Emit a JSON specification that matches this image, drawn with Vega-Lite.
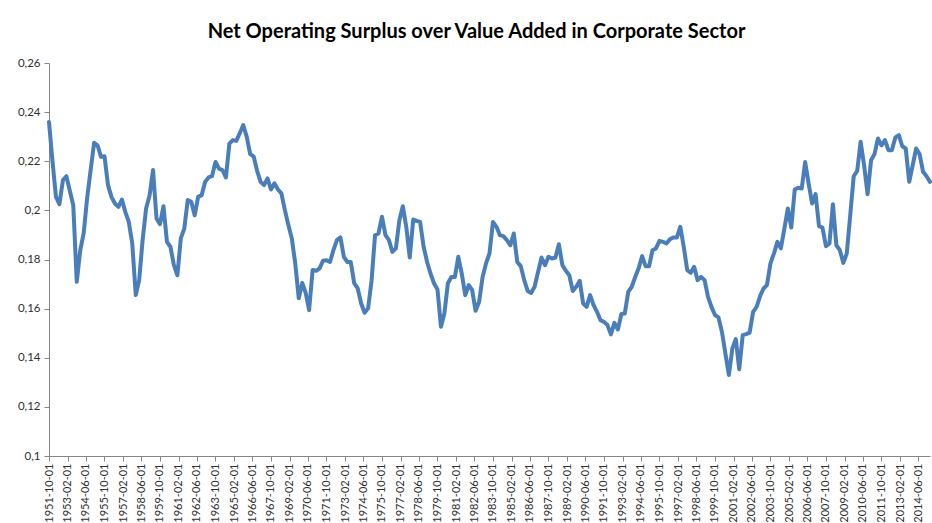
{
"$schema": "https://vega.github.io/schema/vega-lite/v6.json",
"width": 881, "height": 393,
"autosize": {"type": "none"},
"padding": {"left": 49, "top": 63, "right": 2, "bottom": 67},
"background": "white",
"config": {"view": {"stroke": null}},
"title": {"text": "Net Operating Surplus over Value Added in Corporate Sector", "font": "Lato", "fontSize": 20, "fontWeight": "bold", "color": "#000000", "anchor": "middle", "dx": -13, "offset": -1, "baseline": "alphabetic"},
"data": {"format": {"parse": {"d": "utc:'%Y-%m-%d'"}}, "values": [
{"d":"1951-10-01","v":0.236},{"d":"1952-01-01","v":0.220},{"d":"1952-04-01","v":0.2055},{"d":"1952-07-01","v":0.2025},{"d":"1952-10-01","v":0.2123},
{"d":"1953-01-01","v":0.2139},{"d":"1953-04-01","v":0.208},{"d":"1953-07-01","v":0.2021},{"d":"1953-10-01","v":0.1709},
{"d":"1954-01-01","v":0.1838},{"d":"1954-04-01","v":0.1907},{"d":"1954-07-01","v":0.205},{"d":"1954-10-01","v":0.2164},
{"d":"1955-01-01","v":0.2275},{"d":"1955-04-01","v":0.2265},{"d":"1955-07-01","v":0.2218},{"d":"1955-10-01","v":0.222},
{"d":"1956-01-01","v":0.2103},{"d":"1956-04-01","v":0.2055},{"d":"1956-07-01","v":0.2028},{"d":"1956-10-01","v":0.2014},
{"d":"1957-01-01","v":0.2044},{"d":"1957-04-01","v":0.1994},{"d":"1957-07-01","v":0.1953},{"d":"1957-10-01","v":0.1865},
{"d":"1958-01-01","v":0.1655},{"d":"1958-04-01","v":0.1716},{"d":"1958-07-01","v":0.188},{"d":"1958-10-01","v":0.2009},
{"d":"1959-01-01","v":0.2062},{"d":"1959-04-01","v":0.2164},{"d":"1959-07-01","v":0.1967},{"d":"1959-10-01","v":0.1944},
{"d":"1960-01-01","v":0.2017},{"d":"1960-04-01","v":0.1872},{"d":"1960-07-01","v":0.1852},{"d":"1960-10-01","v":0.1777},
{"d":"1961-01-01","v":0.1736},{"d":"1961-04-01","v":0.1886},{"d":"1961-07-01","v":0.1926},{"d":"1961-10-01","v":0.2042},
{"d":"1962-01-01","v":0.2035},{"d":"1962-04-01","v":0.198},{"d":"1962-07-01","v":0.2055},{"d":"1962-10-01","v":0.2062},
{"d":"1963-01-01","v":0.2116},{"d":"1963-04-01","v":0.2134},{"d":"1963-07-01","v":0.2139},{"d":"1963-10-01","v":0.2197},
{"d":"1964-01-01","v":0.217},{"d":"1964-04-01","v":0.2164},{"d":"1964-07-01","v":0.2134},{"d":"1964-10-01","v":0.2272},
{"d":"1965-01-01","v":0.2286},{"d":"1965-04-01","v":0.2283},{"d":"1965-07-01","v":0.2314},{"d":"1965-10-01","v":0.2347},
{"d":"1966-01-01","v":0.2299},{"d":"1966-04-01","v":0.2229},{"d":"1966-07-01","v":0.222},{"d":"1966-10-01","v":0.2161},
{"d":"1967-01-01","v":0.2116},{"d":"1967-04-01","v":0.2103},{"d":"1967-07-01","v":0.213},{"d":"1967-10-01","v":0.2085},
{"d":"1968-01-01","v":0.211},{"d":"1968-04-01","v":0.2085},{"d":"1968-07-01","v":0.2069},{"d":"1968-10-01","v":0.2001},
{"d":"1969-01-01","v":0.194},{"d":"1969-04-01","v":0.1886},{"d":"1969-07-01","v":0.1784},{"d":"1969-10-01","v":0.1642},
{"d":"1970-01-01","v":0.1705},{"d":"1970-04-01","v":0.1664},{"d":"1970-07-01","v":0.1594},{"d":"1970-10-01","v":0.1757},
{"d":"1971-01-01","v":0.1754},{"d":"1971-04-01","v":0.1764},{"d":"1971-07-01","v":0.1795},{"d":"1971-10-01","v":0.1797},
{"d":"1972-01-01","v":0.179},{"d":"1972-04-01","v":0.1838},{"d":"1972-07-01","v":0.1879},{"d":"1972-10-01","v":0.189},
{"d":"1973-01-01","v":0.1811},{"d":"1973-04-01","v":0.179},{"d":"1973-07-01","v":0.179},{"d":"1973-10-01","v":0.1703},
{"d":"1974-01-01","v":0.1682},{"d":"1974-04-01","v":0.1621},{"d":"1974-07-01","v":0.1583},{"d":"1974-10-01","v":0.1601},
{"d":"1975-01-01","v":0.1716},{"d":"1975-04-01","v":0.1899},{"d":"1975-07-01","v":0.1906},{"d":"1975-10-01","v":0.1974},
{"d":"1976-01-01","v":0.1899},{"d":"1976-04-01","v":0.1879},{"d":"1976-07-01","v":0.1831},{"d":"1976-10-01","v":0.1845},
{"d":"1977-01-01","v":0.196},{"d":"1977-04-01","v":0.2017},{"d":"1977-07-01","v":0.1933},{"d":"1977-10-01","v":0.1808},
{"d":"1978-01-01","v":0.1963},{"d":"1978-04-01","v":0.1957},{"d":"1978-07-01","v":0.1953},{"d":"1978-10-01","v":0.1852},
{"d":"1979-01-01","v":0.179},{"d":"1979-04-01","v":0.1743},{"d":"1979-07-01","v":0.1703},{"d":"1979-10-01","v":0.1678},
{"d":"1980-01-01","v":0.1526},{"d":"1980-04-01","v":0.1581},{"d":"1980-07-01","v":0.1703},{"d":"1980-10-01","v":0.1729},
{"d":"1981-01-01","v":0.1729},{"d":"1981-04-01","v":0.1811},{"d":"1981-07-01","v":0.1743},{"d":"1981-10-01","v":0.1655},
{"d":"1982-01-01","v":0.1696},{"d":"1982-04-01","v":0.1675},{"d":"1982-07-01","v":0.1591},{"d":"1982-10-01","v":0.1628},
{"d":"1983-01-01","v":0.1729},{"d":"1983-04-01","v":0.1784},{"d":"1983-07-01","v":0.1825},{"d":"1983-10-01","v":0.1953},
{"d":"1984-01-01","v":0.1933},{"d":"1984-04-01","v":0.1899},{"d":"1984-07-01","v":0.1895},{"d":"1984-10-01","v":0.1879},
{"d":"1985-01-01","v":0.1858},{"d":"1985-04-01","v":0.1906},{"d":"1985-07-01","v":0.179},{"d":"1985-10-01","v":0.1773},
{"d":"1986-01-01","v":0.1716},{"d":"1986-04-01","v":0.1672},{"d":"1986-07-01","v":0.1664},{"d":"1986-10-01","v":0.1689},
{"d":"1987-01-01","v":0.175},{"d":"1987-04-01","v":0.1808},{"d":"1987-07-01","v":0.1777},{"d":"1987-10-01","v":0.1811},
{"d":"1988-01-01","v":0.1804},{"d":"1988-04-01","v":0.1808},{"d":"1988-07-01","v":0.1862},{"d":"1988-10-01","v":0.1777},
{"d":"1989-01-01","v":0.1754},{"d":"1989-04-01","v":0.1736},{"d":"1989-07-01","v":0.1672},{"d":"1989-10-01","v":0.1689},
{"d":"1990-01-01","v":0.1713},{"d":"1990-04-01","v":0.1621},{"d":"1990-07-01","v":0.1607},{"d":"1990-10-01","v":0.1655},
{"d":"1991-01-01","v":0.1614},{"d":"1991-04-01","v":0.1587},{"d":"1991-07-01","v":0.1553},{"d":"1991-10-01","v":0.1546},
{"d":"1992-01-01","v":0.1533},{"d":"1992-04-01","v":0.1495},{"d":"1992-07-01","v":0.1542},{"d":"1992-10-01","v":0.1515},
{"d":"1993-01-01","v":0.1578},{"d":"1993-04-01","v":0.158},{"d":"1993-07-01","v":0.1668},{"d":"1993-10-01","v":0.1689},
{"d":"1994-01-01","v":0.1729},{"d":"1994-04-01","v":0.1764},{"d":"1994-07-01","v":0.1814},{"d":"1994-10-01","v":0.1773},
{"d":"1995-01-01","v":0.1773},{"d":"1995-04-01","v":0.1838},{"d":"1995-07-01","v":0.1845},{"d":"1995-10-01","v":0.1876},
{"d":"1996-01-01","v":0.1872},{"d":"1996-04-01","v":0.1865},{"d":"1996-07-01","v":0.1882},{"d":"1996-10-01","v":0.189},
{"d":"1997-01-01","v":0.189},{"d":"1997-04-01","v":0.1933},{"d":"1997-07-01","v":0.1852},{"d":"1997-10-01","v":0.1757},
{"d":"1998-01-01","v":0.1746},{"d":"1998-04-01","v":0.177},{"d":"1998-07-01","v":0.1716},{"d":"1998-10-01","v":0.1729},
{"d":"1999-01-01","v":0.1716},{"d":"1999-04-01","v":0.1648},{"d":"1999-07-01","v":0.1607},{"d":"1999-10-01","v":0.1574},
{"d":"2000-01-01","v":0.1564},{"d":"2000-04-01","v":0.1506},{"d":"2000-07-01","v":0.1418},{"d":"2000-10-01","v":0.133},
{"d":"2001-01-01","v":0.1438},{"d":"2001-04-01","v":0.1476},{"d":"2001-07-01","v":0.1353},{"d":"2001-10-01","v":0.1492},
{"d":"2002-01-01","v":0.1496},{"d":"2002-04-01","v":0.1502},{"d":"2002-07-01","v":0.1587},{"d":"2002-10-01","v":0.1607},
{"d":"2003-01-01","v":0.1651},{"d":"2003-04-01","v":0.1682},{"d":"2003-07-01","v":0.1696},{"d":"2003-10-01","v":0.1784},
{"d":"2004-01-01","v":0.1825},{"d":"2004-04-01","v":0.1872},{"d":"2004-07-01","v":0.1845},{"d":"2004-10-01","v":0.1926},
{"d":"2005-01-01","v":0.2008},{"d":"2005-04-01","v":0.193},{"d":"2005-07-01","v":0.2085},{"d":"2005-10-01","v":0.2092},
{"d":"2006-01-01","v":0.2089},{"d":"2006-04-01","v":0.2197},{"d":"2006-07-01","v":0.211},{"d":"2006-10-01","v":0.2028},
{"d":"2007-01-01","v":0.2066},{"d":"2007-04-01","v":0.1936},{"d":"2007-07-01","v":0.193},{"d":"2007-10-01","v":0.1854},
{"d":"2008-01-01","v":0.1865},{"d":"2008-04-01","v":0.2025},{"d":"2008-07-01","v":0.1858},{"d":"2008-10-01","v":0.1838},
{"d":"2009-01-01","v":0.1786},{"d":"2009-04-01","v":0.1825},{"d":"2009-07-01","v":0.198},{"d":"2009-10-01","v":0.2139},
{"d":"2010-01-01","v":0.2161},{"d":"2010-04-01","v":0.2279},{"d":"2010-07-01","v":0.2184},{"d":"2010-10-01","v":0.2066},
{"d":"2011-01-01","v":0.2204},{"d":"2011-04-01","v":0.2229},{"d":"2011-07-01","v":0.2293},{"d":"2011-10-01","v":0.2265},
{"d":"2012-01-01","v":0.2286},{"d":"2012-04-01","v":0.2245},{"d":"2012-07-01","v":0.2245},{"d":"2012-10-01","v":0.2297},
{"d":"2013-01-01","v":0.2306},{"d":"2013-04-01","v":0.2261},{"d":"2013-07-01","v":0.2252},{"d":"2013-10-01","v":0.2116},
{"d":"2014-01-01","v":0.2184},{"d":"2014-04-01","v":0.2252},{"d":"2014-07-01","v":0.2229},{"d":"2014-10-01","v":0.2157},
{"d":"2015-01-01","v":0.2139},{"d":"2015-04-01","v":0.2116}
]},
"mark": {"type": "line", "color": "#4A7EBB", "strokeWidth": 4, "strokeJoin": "round", "strokeCap": "round"},
"encoding": {
"x": {"field": "d", "type": "temporal",
 "scale": {"type": "utc", "domain": [{"year":1951,"month":10,"date":1,"utc":true},{"year":2015,"month":4,"date":1,"utc":true}]},
 "axis": {"title": null, "grid": false, "format": "%Y-%m-%d", "labelAngle": 270, "labelAlign": "right", "labelBaseline": "middle",
  "labelFont": "Lato", "labelFontSize": 11, "labelColor": "#303030", "domainColor": "#868686", "tickColor": "#868686", "tickSize": 5, "labelPadding": 2,
  "labelOverlap": false, "labelFlush": false, "labelBound": false,
  "values": [
   {"year":1951,"month":10,"date":1,"utc":true},{"year":1953,"month":2,"date":1,"utc":true},{"year":1954,"month":6,"date":1,"utc":true},
   {"year":1955,"month":10,"date":1,"utc":true},{"year":1957,"month":2,"date":1,"utc":true},{"year":1958,"month":6,"date":1,"utc":true},
   {"year":1959,"month":10,"date":1,"utc":true},{"year":1961,"month":2,"date":1,"utc":true},{"year":1962,"month":6,"date":1,"utc":true},
   {"year":1963,"month":10,"date":1,"utc":true},{"year":1965,"month":2,"date":1,"utc":true},{"year":1966,"month":6,"date":1,"utc":true},
   {"year":1967,"month":10,"date":1,"utc":true},{"year":1969,"month":2,"date":1,"utc":true},{"year":1970,"month":6,"date":1,"utc":true},
   {"year":1971,"month":10,"date":1,"utc":true},{"year":1973,"month":2,"date":1,"utc":true},{"year":1974,"month":6,"date":1,"utc":true},
   {"year":1975,"month":10,"date":1,"utc":true},{"year":1977,"month":2,"date":1,"utc":true},{"year":1978,"month":6,"date":1,"utc":true},
   {"year":1979,"month":10,"date":1,"utc":true},{"year":1981,"month":2,"date":1,"utc":true},{"year":1982,"month":6,"date":1,"utc":true},
   {"year":1983,"month":10,"date":1,"utc":true},{"year":1985,"month":2,"date":1,"utc":true},{"year":1986,"month":6,"date":1,"utc":true},
   {"year":1987,"month":10,"date":1,"utc":true},{"year":1989,"month":2,"date":1,"utc":true},{"year":1990,"month":6,"date":1,"utc":true},
   {"year":1991,"month":10,"date":1,"utc":true},{"year":1993,"month":2,"date":1,"utc":true},{"year":1994,"month":6,"date":1,"utc":true},
   {"year":1995,"month":10,"date":1,"utc":true},{"year":1997,"month":2,"date":1,"utc":true},{"year":1998,"month":6,"date":1,"utc":true},
   {"year":1999,"month":10,"date":1,"utc":true},{"year":2001,"month":2,"date":1,"utc":true},{"year":2002,"month":6,"date":1,"utc":true},
   {"year":2003,"month":10,"date":1,"utc":true},{"year":2005,"month":2,"date":1,"utc":true},{"year":2006,"month":6,"date":1,"utc":true},
   {"year":2007,"month":10,"date":1,"utc":true},{"year":2009,"month":2,"date":1,"utc":true},{"year":2010,"month":6,"date":1,"utc":true},
   {"year":2011,"month":10,"date":1,"utc":true},{"year":2013,"month":2,"date":1,"utc":true},{"year":2014,"month":6,"date":1,"utc":true}
  ]}},
"y": {"field": "v", "type": "quantitative",
 "scale": {"domain": [0.1, 0.26], "nice": false, "zero": false},
 "axis": {"title": null, "grid": false, "values": [0.1, 0.12, 0.14, 0.16, 0.18, 0.2, 0.22, 0.24, 0.26],
  "labelExpr": "replace(format(datum.value, '~g'), '.', ',')",
  "labelFont": "Lato", "labelFontSize": 11.5, "labelColor": "#303030", "domainColor": "#868686", "tickColor": "#868686", "tickSize": 5, "labelPadding": 4}}
}
}
